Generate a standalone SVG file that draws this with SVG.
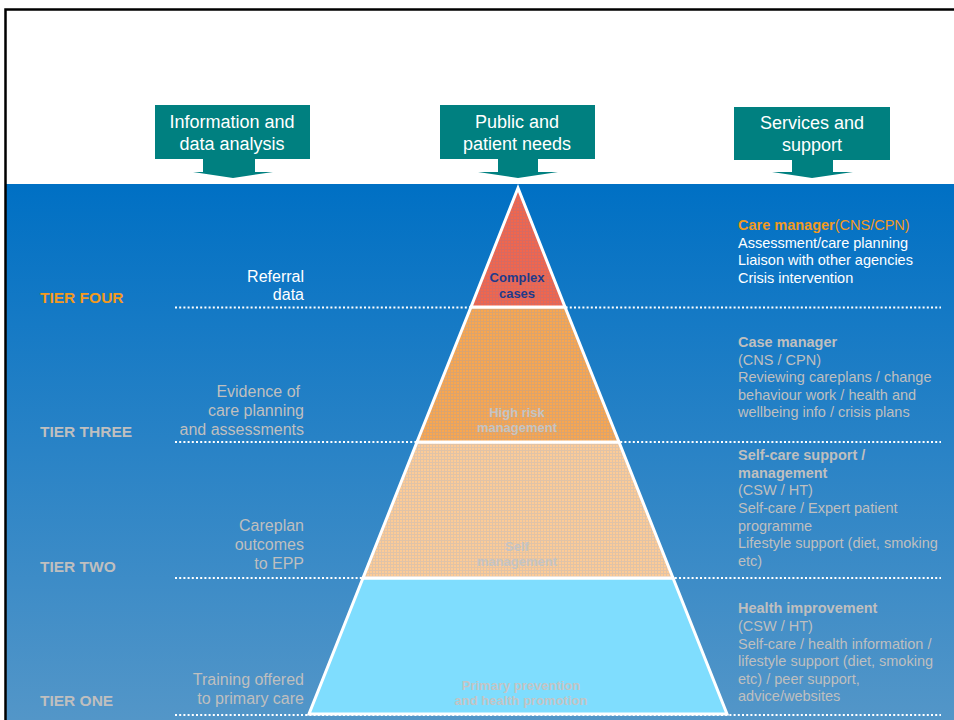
<svg xmlns="http://www.w3.org/2000/svg" width="954" height="720" viewBox="0 0 954 720">
<defs>
<linearGradient id="bg" x1="0" y1="0" x2="0" y2="1">
<stop offset="0" stop-color="#0070C4"/>
<stop offset="1" stop-color="#5396C8"/>
</linearGradient>
<pattern id="p4" width="3" height="3" patternUnits="userSpaceOnUse">
<rect width="3" height="3" fill="#F2664C"/>
<path d="M0 0.5H3M0.5 0V3" stroke="#B07080" stroke-width="1" opacity="0.4"/>
</pattern>
<pattern id="p3" width="3" height="3" patternUnits="userSpaceOnUse">
<rect width="3" height="3" fill="#FAA64E"/>
<path d="M0 0.5H3M0.5 0V3" stroke="#A0A0A8" stroke-width="1" opacity="0.35"/>
</pattern>
<pattern id="p2" width="3" height="3" patternUnits="userSpaceOnUse">
<rect width="3" height="3" fill="#FDCB96"/>
<path d="M0 0.5H3M0.5 0V3" stroke="#A8B4C4" stroke-width="1" opacity="0.35"/>
</pattern>
<style>
.hdr{fill:#008080}
.ht{font-family:"Liberation Sans",Arial,sans-serif;font-size:18px;fill:#FFFFFF;text-anchor:middle}
.dot{stroke:#FFFFFF;stroke-width:2;stroke-dasharray:2 2.2;fill:none}
.tier{font-family:"Liberation Sans",Arial,sans-serif;font-size:15.5px;font-weight:bold;fill:#BFBFBF}
.lab{font-family:"Liberation Sans",Arial,sans-serif;font-size:16px;fill:#BFBFBF;text-anchor:end}
.rt{font-family:"Liberation Sans",Arial,sans-serif;font-size:14.5px;fill:#BFBFBF}
.b{font-weight:bold}
.w{fill:#FFFFFF}
.o{fill:#F39A1E}
.pyr{stroke:#FFFFFF;stroke-width:3;stroke-linejoin:miter}
.pt{font-family:"Liberation Sans",Arial,sans-serif;font-size:13px;font-weight:bold;fill:#C4C4C4;text-anchor:middle}
.ptd{fill:#1F3A8A}
</style>
</defs>
<rect x="0" y="0" width="954" height="720" fill="#FFFFFF"/>
<rect x="6" y="184" width="948" height="536" fill="url(#bg)"/>
<path d="M5.5 720V9.5H954" fill="none" stroke="#000000" stroke-width="2.5"/>

<g id="hdr-info">
<rect class="hdr" x="155" y="105" width="155" height="54"/>
<path class="hdr" d="M203 158L203 172L193 172L233 178L273 172L255 172L255 158Z"/>
<text class="ht" x="232" y="128">Information and</text>
<text class="ht" x="232" y="150">data analysis</text>
</g>
<g id="hdr-public">
<rect class="hdr" x="440" y="105" width="155" height="54"/>
<path class="hdr" d="M498 158L498 172L478 172L518 178L558 172L538 172L538 158Z"/>
<text class="ht" x="517" y="128">Public and</text>
<text class="ht" x="517" y="150">patient needs</text>
</g>
<g id="hdr-services">
<rect class="hdr" x="734" y="107" width="156" height="53"/>
<path class="hdr" d="M792 159L792 172L772 172L812 178L853 172L833 172L833 159Z"/>
<text class="ht" x="812" y="129">Services and</text>
<text class="ht" x="812" y="151">support</text>
</g>

<g id="connectors">
<path class="dot" d="M175 307.5H941"/>
<path class="dot" d="M175 442H941"/>
<path class="dot" d="M175 578H941"/>
<path class="dot" d="M175 715H941"/>
</g>

<g id="tier-labels">
<text class="tier o" x="40" y="303">TIER FOUR</text>
<text class="tier" x="40" y="437">TIER THREE</text>
<text class="tier" x="40" y="572">TIER TWO</text>
<text class="tier" x="40" y="706">TIER ONE</text>
</g>

<g id="left-labels">
<text class="lab w" x="304" y="282">Referral</text>
<text class="lab w" x="304" y="300">data</text>
<text class="lab" x="300" y="397">Evidence of</text>
<text class="lab" x="304" y="416">care planning</text>
<text class="lab" x="304" y="435">and assessments</text>
<text class="lab" x="304" y="531">Careplan</text>
<text class="lab" x="304" y="550">outcomes</text>
<text class="lab" x="304" y="569">to EPP</text>
<text class="lab" x="304" y="685">Training offered</text>
<text class="lab" x="304" y="704">to primary care</text>
</g>

<g id="tier1">
<polygon class="pyr" points="363,578 673,578 727,714 309,714" fill="#7FDDFE"/>
<text class="pt" x="521" y="690">Primary prevention</text>
<text class="pt" x="521" y="705">and health promotion</text>
</g>
<g id="tier2">
<polygon class="pyr" points="417,442 619,442 673,578 363,578" fill="url(#p2)"/>
<text class="pt" x="517" y="551">Self</text>
<text class="pt" x="517" y="566">management</text>
</g>
<g id="tier3">
<polygon class="pyr" points="471,307 565,307 619,442 417,442" fill="url(#p3)"/>
<text class="pt" x="517" y="417">High risk</text>
<text class="pt" x="517" y="432">management</text>
</g>
<g id="tier4">
<polygon class="pyr" points="518,188 565,307 471,307" fill="url(#p4)"/>
<text class="pt ptd" x="517" y="282">Complex</text>
<text class="pt ptd" x="517" y="298">cases</text>
</g>

<g id="services-4">
<text class="rt o" x="738" y="230"><tspan class="b">Care manager</tspan>(CNS/CPN)</text>
<text class="rt w" x="738" y="248">Assessment/care planning</text>
<text class="rt w" x="738" y="265">Liaison with other agencies</text>
<text class="rt w" x="738" y="283">Crisis intervention</text>
</g>
<g id="services-3">
<text class="rt b" x="738" y="347">Case manager</text>
<text class="rt" x="738" y="364.5">(CNS / CPN)</text>
<text class="rt" x="738" y="382">Reviewing careplans / change</text>
<text class="rt" x="738" y="399.5">behaviour work / health and</text>
<text class="rt" x="738" y="417">wellbeing info / crisis plans</text>
</g>
<g id="services-2">
<text class="rt b" x="738" y="460">Self-care support /</text>
<text class="rt b" x="738" y="477.5">management</text>
<text class="rt" x="738" y="495">(CSW / HT)</text>
<text class="rt" x="738" y="513">Self-care / Expert patient</text>
<text class="rt" x="738" y="530.5">programme</text>
<text class="rt" x="738" y="548">Lifestyle support (diet, smoking</text>
<text class="rt" x="738" y="565.5">etc)</text>
</g>
<g id="services-1">
<text class="rt b" x="738" y="613">Health improvement</text>
<text class="rt" x="738" y="631">(CSW / HT)</text>
<text class="rt" x="738" y="648.5">Self-care / health information /</text>
<text class="rt" x="738" y="666">lifestyle support (diet, smoking</text>
<text class="rt" x="738" y="683.5">etc) / peer support,</text>
<text class="rt" x="738" y="701">advice/websites</text>
</g>
</svg>
